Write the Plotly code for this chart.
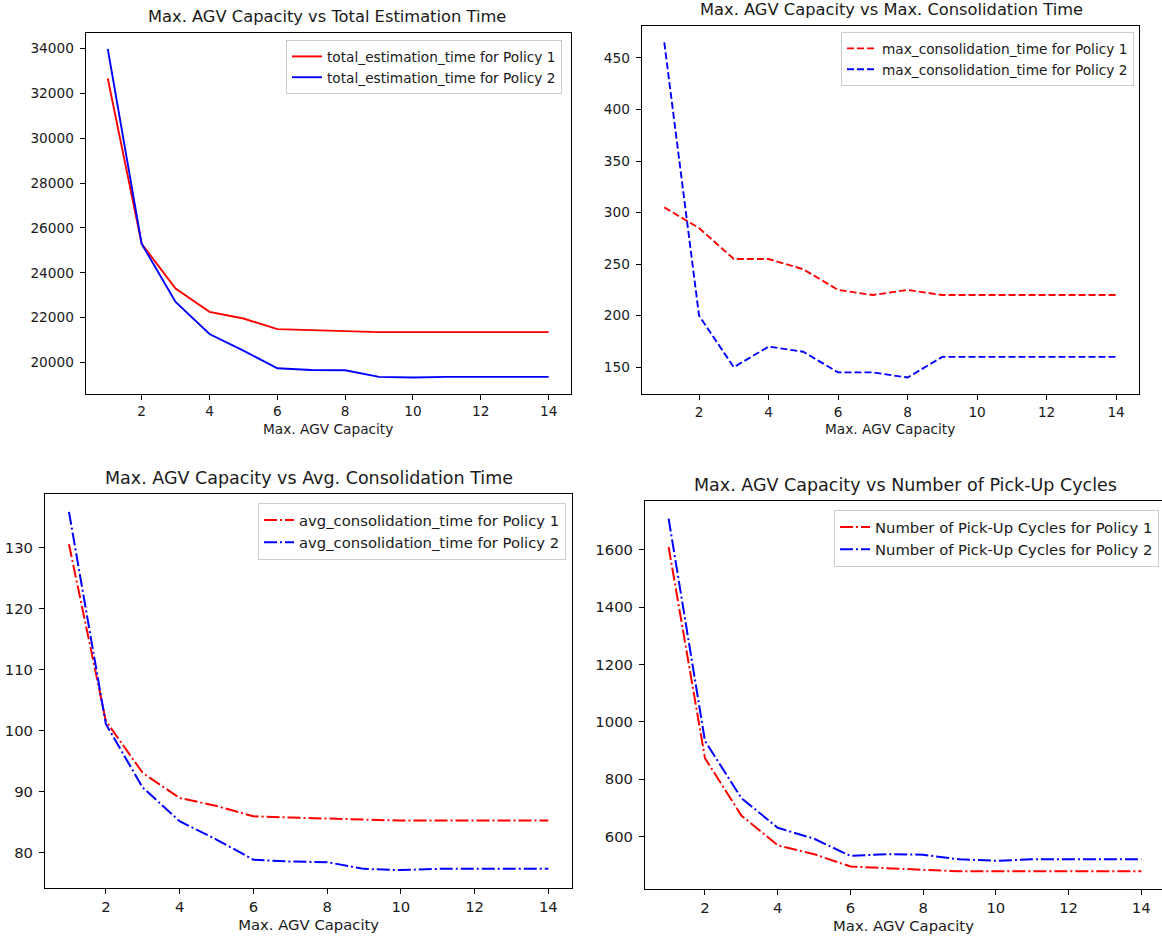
import plotly.graph_objects as go

capacity = list(range(1, 15))

total_time_p1 = [32670, 25295, 23300, 22260, 21965, 21490, 21446, 21400, 21357, 21357, 21357, 21357, 21357, 21357]
total_time_p2 = [33985, 25295, 22705, 21270, 20530, 19744, 19670, 19655, 19360, 19330, 19360, 19360, 19360, 19360]

max_cons_p1 = [305, 285, 255, 255, 245, 225, 220, 225, 220, 220, 220, 220, 220, 220]
max_cons_p2 = [465, 200, 150, 170, 165, 145, 145, 140, 160, 160, 160, 160, 160, 160]

avg_cons_p1 = [130.5, 101.6, 93.1, 89.0, 87.7, 86.0, 85.8, 85.6, 85.4, 85.3, 85.3, 85.3, 85.3, 85.3]
avg_cons_p2 = [135.8, 101.1, 90.7, 85.2, 82.2, 78.9, 78.6, 78.5, 77.4, 77.2, 77.4, 77.4, 77.4, 77.4]

pickups_p1 = [1610, 873, 673, 569, 538, 495, 489, 484, 478, 478, 478, 478, 478, 478]
pickups_p2 = [1709, 933, 734, 630, 592, 532, 538, 536, 520, 515, 520, 520, 520, 520]

titles = [
    "Max. AGV Capacity vs Total Estimation Time",
    "Max. AGV Capacity vs Max. Consolidation Time",
    "Max. AGV Capacity vs Avg. Consolidation Time",
    "Max. AGV Capacity vs Number of Pick-Up Cycles",
]
series_names = [
    "total_estimation_time",
    "max_consolidation_time",
    "avg_consolidation_time",
    "Number of Pick-Up Cycles",
]
panels = [
    (total_time_p1, total_time_p2, "solid"),
    (max_cons_p1, max_cons_p2, "7px,3px"),
    (avg_cons_p1, avg_cons_p2, "13px,3px,2px,3px"),
    (pickups_p1, pickups_p2, "13px,3px,2px,3px"),
]

W, H = 1162, 938
# pixel boxes: left, right, top, bottom
boxes = [
    (85.7, 570.7, 32.5, 394.0),
    (641.7, 1138.7, 25.7, 394.3),
    (45.0, 572.3, 494.0, 888.0),
    (645.0, 1162.0, 501.0, 889.0),
]
title_centers = [327.0, 891.0, 308.5, 905.0]
xranges = [[0.35, 14.65], [0.35, 14.65], [0.35, 14.65], [0.35, 14.57]]
legend_pos = [(562, 40), (1134, 32), (566, 503), (1159, 510)]
ydticks = [2000, 50, 10, 200]
text_sizes = [13.7, 13.7, 14.8, 14.8]
title_sizes = [16.3, 16.3, 17.5, 17.5]
line_widths = [1.9, 1.9, 2.0, 2.0]

FONT = "DejaVu Sans"
TXT = "#1a1a1a"
fig = go.Figure()
layout = dict(
    width=W, height=H, margin=dict(l=0, r=0, t=0, b=0),
    paper_bgcolor="white", plot_bgcolor="white",
    font=dict(family=FONT, size=13.7, color=TXT),
    showlegend=True, annotations=[],
)

for i, ((p1, p2, dash), name, title, box) in enumerate(zip(panels, series_names, titles, boxes)):
    n = "" if i == 0 else str(i + 1)
    xa, ya = "x" + n, "y" + n
    lg = "legend" + n
    fs = text_sizes[i]
    for vals, color, pol in [(p1, "red", 1), (p2, "blue", 2)]:
        fig.add_trace(go.Scatter(
            x=capacity, y=vals, mode="lines",
            line=dict(color=color, width=line_widths[i], dash=dash),
            name=f"{name} for Policy {pol}",
            xaxis=xa, yaxis=ya, legend=lg,
        ))
    l, r, t, b = box
    lo = min(min(p1), min(p2))
    hi = max(max(p1), max(p2))
    pad = 0.05 * (hi - lo)
    axis_common = dict(
        showline=True, linecolor="black", linewidth=1,
        ticks="outside", ticklen=5, tickwidth=1, tickcolor="black",
        showgrid=False, zeroline=False,
        tickfont=dict(family=FONT, size=fs, color=TXT),
    )
    layout["xaxis" + n] = dict(
        domain=[l / W, r / W], anchor=ya, range=xranges[i],
        tickmode="linear", tick0=0, dtick=2, mirror=True,
        title=dict(text="Max. AGV Capacity", standoff=5,
                   font=dict(family=FONT, size=fs, color=TXT)),
        **axis_common,
    )
    layout["yaxis" + n] = dict(
        domain=[1 - b / H, 1 - t / H], anchor=xa, range=[lo - pad, hi + pad],
        tickmode="linear", tick0=0, dtick=ydticks[i], tickformat="d",
        ticklabelstandoff=3, mirror=(i != 3),
        **axis_common,
    )
    lx, ly = legend_pos[i]
    layout[lg] = dict(
        x=lx / W, y=1 - ly / H, xanchor="right", yanchor="top",
        xref="paper", yref="paper",
        bgcolor="rgba(255,255,255,0.8)", bordercolor="#cccccc", borderwidth=1,
        font=dict(family=FONT, size=fs, color=TXT),
        itemwidth=30, tracegroupgap=0,
    )
    layout["annotations"].append(dict(
        text=title, x=title_centers[i] / W,
        y=1 - t / H, xref="paper", yref="paper",
        xanchor="center", yanchor="middle", yshift=16, showarrow=False,
        font=dict(family=FONT, size=title_sizes[i], color=TXT),
    ))

fig.update_layout(**layout)
fig.write_html("out.html", config={"displayModeBar": False},
               post_script="document.body.style.margin='0px';document.body.style.overflow='hidden';")
